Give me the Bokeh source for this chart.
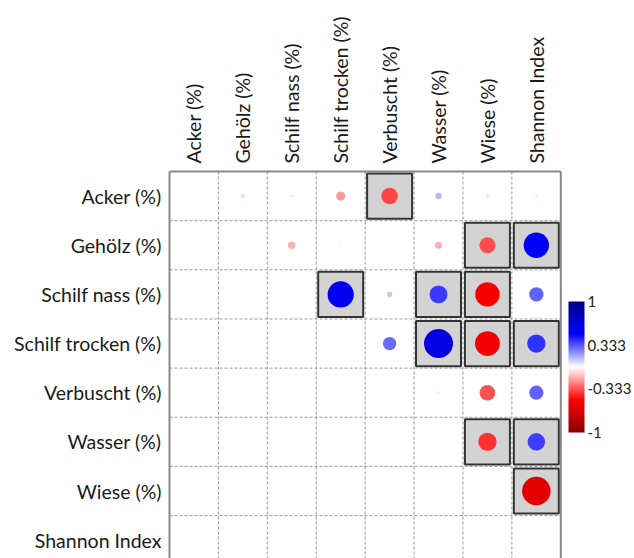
import numpy as np
from bokeh.plotting import figure
from bokeh.models import (Range1d, FixedTicker, LinearAxis, ColorBar,
                          LinearColorMapper, ColumnDataSource)
from bokeh.embed import file_html
from bokeh.resources import INLINE

# variables of the correlation matrix (rows top to bottom, columns left to right)
variables = ["Acker (%)", "Gehölz (%)", "Schilf nass (%)", "Schilf trocken (%)",
             "Verbuscht (%)", "Wasser (%)", "Wiese (%)", "Shannon Index"]

# upper triangle: correlations of each row variable with the following columns
r_acker = [-0.09, -0.06, -0.20, -0.36, 0.14, -0.07, -0.05]
r_gehoelz = [-0.16, -0.04, -0.01, -0.15, -0.35, 0.55]
r_schilf_nass = [0.57, 0.11, 0.39, -0.53, 0.31]
r_schilf_trocken = [0.29, 0.63, -0.54, 0.40]
r_verbuscht = [0.05, -0.34, 0.31]
r_wasser = [-0.40, 0.38]
r_wiese = [-0.62]

# significant pairs (row index, column index)
significant = [(0, 4), (1, 6), (1, 7), (2, 3), (2, 5), (2, 6),
               (3, 5), (3, 6), (3, 7), (5, 6), (5, 7), (6, 7)]

colorbar_ticks = [-1, -0.333, 0.333, 1]

rows = [r_acker, r_gehoelz, r_schilf_nass, r_schilf_trocken,
        r_verbuscht, r_wasser, r_wiese]


def ramp(stops, n=256):
    """Linear colour ramp through evenly spaced hex stops."""
    rgb = np.array([[int(s[i:i + 2], 16) for i in (1, 3, 5)] for s in stops], float)
    pos = np.linspace(0, 1, len(stops))
    t = np.linspace(0, 1, n)
    out = np.stack([np.interp(t, pos, rgb[:, k]) for k in range(3)], axis=1)
    return ["#%02x%02x%02x" % tuple(int(round(v)) for v in c) for c in out]


palette = ramp(["#8B0000", "#FF0000", "#FFFFFF", "#0000FF", "#00008B"])
mapper = LinearColorMapper(palette=palette, low=-1, high=1)

xs, ys, rs = [], [], []
for i, row in enumerate(rows):
    for k, r in enumerate(row):
        xs.append(i + 1 + k)
        ys.append(i)
        rs.append(r)
src = ColumnDataSource(dict(x=xs, y=ys, r=rs,
                            rad=[0.47 * abs(v) for v in rs]))

p = figure(width=634, height=558, output_backend="svg", toolbar_location=None,
           x_range=Range1d(-0.541, 7.535), y_range=Range1d(7.373, -0.541),
           x_axis_location=None, y_axis_location=None,
           min_border_left=167, min_border_top=169, min_border_right=70,
           min_border_bottom=0)
p.outline_line_color = None
p.xgrid.visible = False
p.ygrid.visible = False
p.background_fill_color = "white"
p.border_fill_color = "white"

# dashed cell grid
n = len(variables)
inner = [k + 0.5 for k in range(n - 1)]
p.segment(x0=inner, y0=[-0.5] * len(inner), x1=inner, y1=[7.5] * len(inner),
          line_color="#999999", line_width=1, line_dash="3 2")
p.segment(x0=[-0.5] * len(inner), y0=inner, x1=[7.5] * len(inner), y1=inner,
          line_color="#999999", line_width=1, line_dash="3 2")

# significant cells
sx = [c for _, c in significant]
sy = [r for r, _ in significant]
p.rect(x=sx, y=sy, width=0.92, height=0.92, fill_color="#D3D3D3",
       line_color="#333333", line_width=2)

# correlation circles
p.circle(x="x", y="y", radius="rad", source=src,
         fill_color={"field": "r", "transform": mapper}, line_color=None)

# outer frame
p.segment(x0=[-0.5, -0.5, 7.5], y0=[-0.5, -0.5, -0.5],
          x1=[-0.5, 7.5, 7.5], y1=[7.5, -0.5, 7.5],
          line_color="#888888", line_width=2)

label_style = dict(axis_line_color=None, major_tick_line_color=None,
                   minor_tick_line_color=None, major_label_text_font="Lato",
                   major_label_text_font_size="19.5px",
                   major_label_text_color="#1a1a1a")
overrides = {k: v for k, v in enumerate(variables)}

top = LinearAxis(ticker=FixedTicker(ticks=list(range(n))),
                 major_label_overrides=overrides, major_label_standoff=0,
                 major_label_orientation=np.pi / 2, **label_style)
p.add_layout(top, "above")

left = LinearAxis(ticker=FixedTicker(ticks=list(range(n))),
                  major_label_overrides=overrides, major_label_standoff=0,
                  **label_style)
p.add_layout(left, "left")

cb = ColorBar(color_mapper=mapper, width=16, height=131,
              ticker=FixedTicker(ticks=colorbar_ticks),
              major_label_overrides={-1: "-1", -0.333: "-0.333",
                                     0.333: "0.333", 1: "1"},
              major_label_text_font="Lato", major_label_text_font_size="15px",
              major_label_text_color="#222222",
              major_tick_line_color=None, minor_tick_line_color=None,
              bar_line_color=None, border_line_color=None,
              background_fill_color=None,
              padding=0, margin=0, label_standoff=3, location=(6, 126))
p.add_layout(cb, "right")

open("out.html", "w").write(file_html(p, INLINE))
